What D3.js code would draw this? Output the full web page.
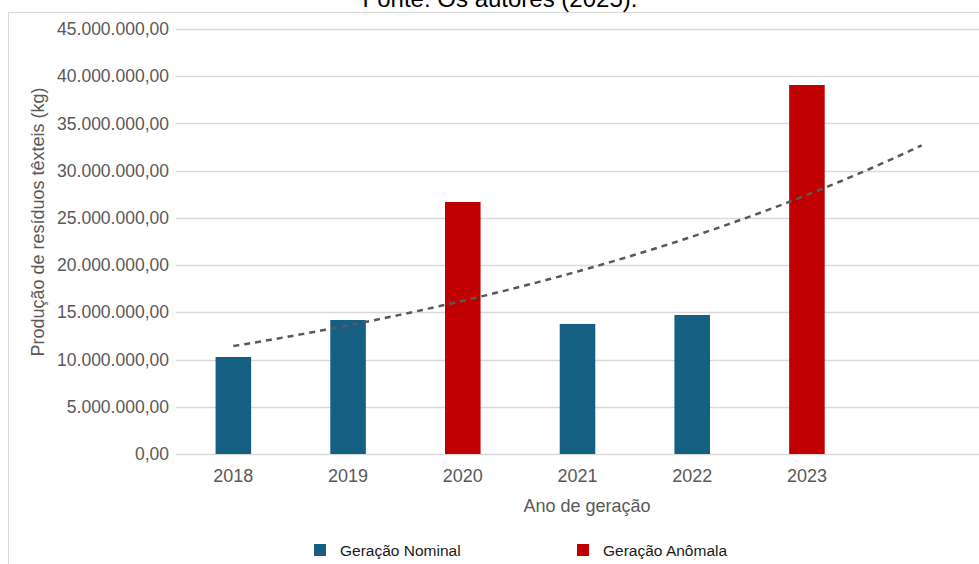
<!DOCTYPE html>
<html>
<head>
<meta charset="utf-8">
<script src="https://cdn.jsdelivr.net/npm/d3@7/dist/d3.min.js"></script>
<style>
  html, body { margin: 0; padding: 0; background: #fff; }
  svg { display: block; font-family: "Liberation Sans", Arial, sans-serif; }
</style>
</head>
<body>
<svg id="chart" width="979" height="564"></svg>
<script>
// ---- data ----
const years = ["2018", "2019", "2020", "2021", "2022", "2023"];
const values = [10270000, 14190000, 26680000, 13770000, 14720000, 39070000];
const series = ["Nominal", "Nominal", "Anômala", "Nominal", "Nominal", "Anômala"];
const forecastPeriods = 1; // trendline projected one period forward
const yTicks = [0, 5e6, 10e6, 15e6, 20e6, 25e6, 30e6, 35e6, 40e6, 45e6];
const legendLabels = ["Geração Nominal", "Geração Anômala"];
const seriesKeys = ["Nominal", "Anômala"];
const caption = "Fonte: Os autores (2025).";
const yTitle = "Produção de resíduos têxteis (kg)";
const xTitle = "Ano de geração";

// ---- setup ----
const svg = d3.select("#chart");
const colors = d3.scaleOrdinal().domain(seriesKeys).range(["#156082", "#C00000"]);
const ptBR = d3.formatLocale({ decimal: ",", thousands: ".", grouping: [3], currency: ["R$", ""] });
const fmt = ptBR.format(",.2f");

const pL = 176, pR = 979, pT = 29, pB = 454;
const domainAll = years.concat(d3.range(forecastPeriods).map((d, i) => "f" + i));
const x = d3.scaleBand().domain(domainAll).range([pL, pR]).paddingInner(0.69).paddingOuter(0.345);
const y = d3.scaleLinear().domain([0, 45e6]).range([pB, pT]);

// caption (cut at top, as in the source)
svg.append("text").attr("x", 500).attr("y", 6.5).attr("text-anchor", "middle")
  .attr("font-size", 24).attr("fill", "#000").text(caption);

// frame
svg.append("rect").attr("x", 8.5).attr("y", 12.5).attr("width", 1000).attr("height", 600)
  .attr("fill", "none").attr("stroke", "#d9d9d9").attr("stroke-width", 1);

// gridlines
svg.append("g").selectAll("line").data(yTicks).join("line")
  .attr("x1", pL).attr("x2", pR)
  .attr("y1", d => Math.round(y(d)) + 0.5).attr("y2", d => Math.round(y(d)) + 0.5)
  .attr("stroke", "#d9d9d9").attr("stroke-width", 1.5);

// y axis labels
const yAxis = d3.axisLeft(y).tickValues(yTicks).tickFormat(fmt).tickSize(0).tickPadding(7);
const gy = svg.append("g").attr("transform", `translate(${pL},0)`).call(yAxis);
gy.select(".domain").remove();
gy.selectAll("text").attr("font-size", 17.5).attr("fill", "#595959").attr("font-family", "Liberation Sans, Arial, sans-serif");

// x axis labels
const xAxis = d3.axisBottom(x).tickValues(years).tickSize(0).tickPadding(15);
const gx = svg.append("g").attr("transform", `translate(0,${pB})`).call(xAxis);
gx.select(".domain").remove();
gx.selectAll("text").attr("font-size", 18).attr("fill", "#595959").attr("font-family", "Liberation Sans, Arial, sans-serif");

// bars
svg.append("g").selectAll("rect").data(years).join("rect")
  .attr("x", d => x(d)).attr("width", x.bandwidth())
  .attr("y", (d, i) => y(values[i])).attr("height", (d, i) => y(0) - y(values[i]))
  .attr("fill", (d, i) => colors(series[i]));

// exponential trendline (least squares on ln y), projected forward
const n = values.length;
const xs = d3.range(n);
const ly = values.map(v => Math.log(v));
const mx = d3.mean(xs), my = d3.mean(ly);
const slope = d3.sum(xs, (t, i) => (t - mx) * (ly[i] - my)) / d3.sum(xs, t => (t - mx) * (t - mx));
const icpt = my - slope * mx;
const tPos = t => x(years[0]) + x.bandwidth() / 2 + t * x.step();
const tSamples = d3.range(0, n - 1 + forecastPeriods + 0.001, 0.05);
svg.append("path").datum(tSamples)
  .attr("d", d3.line().x(t => tPos(t)).y(t => y(Math.exp(icpt + slope * t))))
  .attr("fill", "none").attr("stroke", "#595959").attr("stroke-width", 2.5)
  .attr("stroke-dasharray", "6,5");

// axis titles
svg.append("text").attr("transform", `translate(44,222) rotate(-90)`)
  .attr("text-anchor", "middle").attr("font-size", 18).attr("fill", "#595959").text(yTitle);
svg.append("text").attr("x", 587).attr("y", 512).attr("text-anchor", "middle")
  .attr("font-size", 18).attr("fill", "#595959").text(xTitle);

// legend
const legX = [314, 577];
const lg = svg.append("g").selectAll("g").data(seriesKeys).join("g")
  .attr("transform", (d, i) => `translate(${legX[i]},544)`);
lg.append("rect").attr("width", 12).attr("height", 12).attr("fill", d => colors(d));
lg.append("text").attr("x", 26).attr("y", 12).attr("font-size", 15.5).attr("fill", "#1a1a1a")
  .text((d, i) => legendLabels[i]);
</script>
</body>
</html>
